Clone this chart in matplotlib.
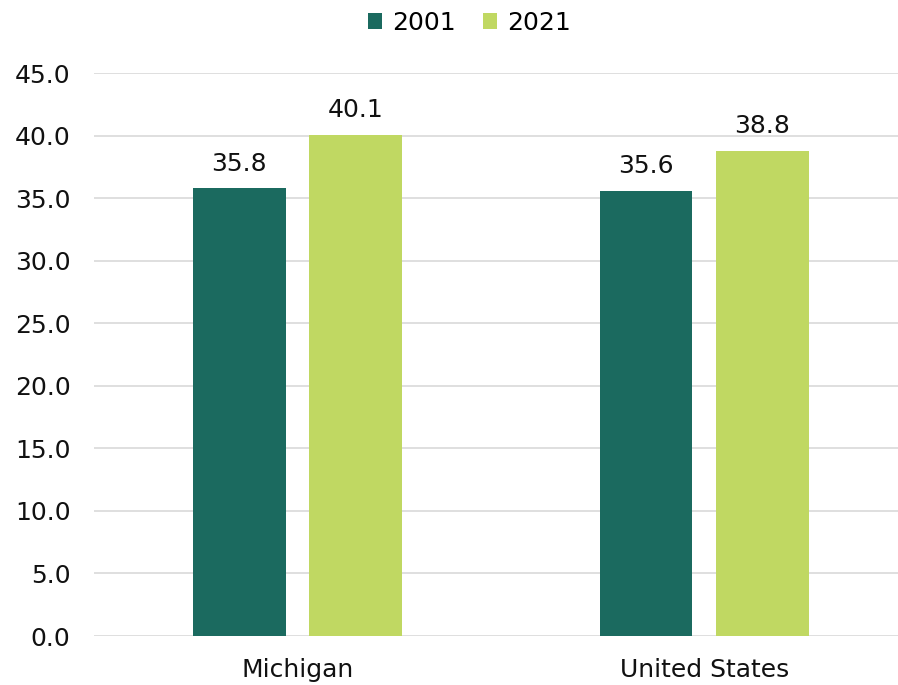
import numpy as np
import matplotlib.pyplot as plt

plt.rcParams['font.family'] = ['DejaVu Sans']

regions = ["Michigan", "United States"]
years = ["2001", "2021"]
vals_2001 = [35.8, 35.6]
vals_2021 = [40.1, 38.8]
colors = ["#1b6a5f", "#c0d862"]

fig = plt.figure(figsize=(8.98, 6.85), dpi=100)
ax = fig.add_axes([0.1047, 0.0715, 0.906, 0.8215])

x = np.arange(len(regions))
w = 0.228
off = 0.143
b1 = ax.bar(x - off, vals_2001, w, color=colors[0], label=years[0], zorder=3)
b2 = ax.bar(x + off, vals_2021, w, color=colors[1], label=years[1], zorder=3)
for bars in (b1, b2):
    ax.bar_label(bars, fmt="%.1f", padding=9, fontsize=18, color="#111111")

ax.set_xlim(-0.5, 1.5)
ax.set_ylim(0, 45)
ticks = np.arange(0, 45.1, 5)
ax.set_yticks(ticks)
ax.set_yticklabels([f"{v:.1f}" for v in ticks])
ax.set_xticks(x)
ax.set_xticklabels(regions)
ax.tick_params(axis="both", length=0, labelsize=18, colors="#111111")
ax.tick_params(axis="x", pad=16)
ax.tick_params(axis="y", pad=17)
ax.grid(axis="y", color="#d9d9d9", linewidth=1.2, zorder=0)
for s in ["top", "right", "left", "bottom"]:
    ax.spines[s].set_visible(False)

fig.legend(loc="upper center", bbox_to_anchor=(0.523, 1.017), ncol=2, frameon=False,
           fontsize=18, handlelength=0.55, handleheight=0.55, handletextpad=0.4,
           columnspacing=1.1)

fig.savefig("out.png", dpi=100)
